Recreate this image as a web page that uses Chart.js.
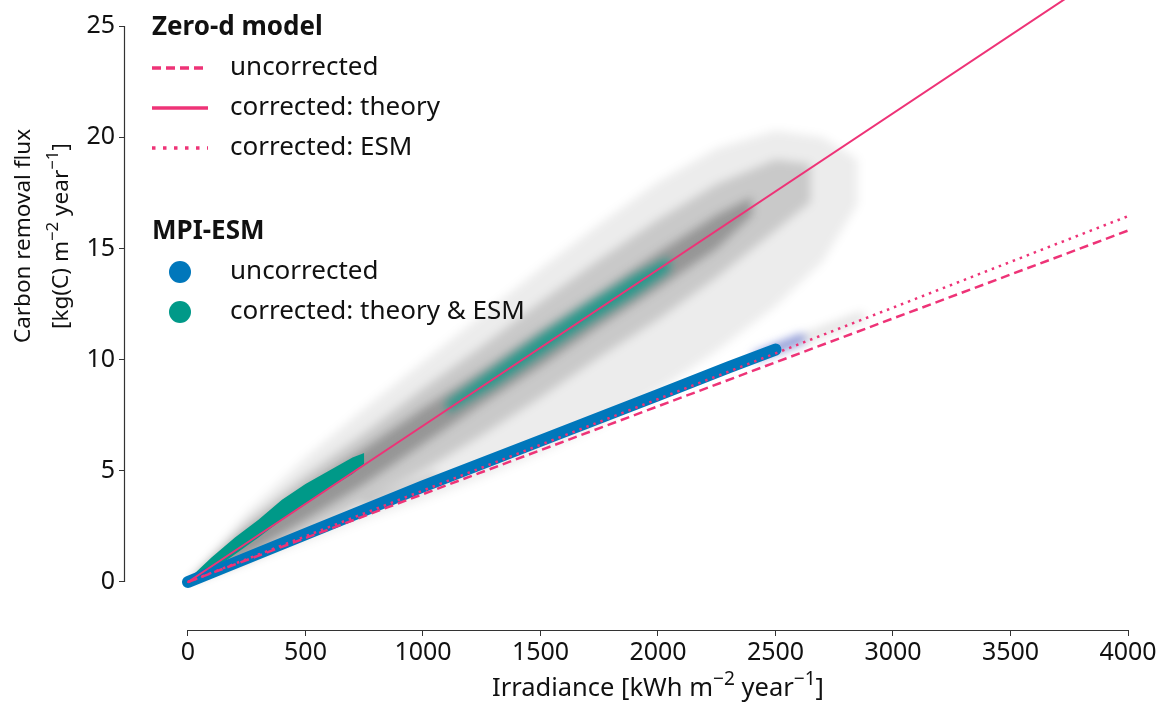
<!DOCTYPE html>
<html>
<head>
<meta charset="utf-8">
<script src="https://cdn.jsdelivr.net/npm/chart.js@4.4.1/dist/chart.umd.min.js"></script>
<style>
  html, body { margin: 0; padding: 0; background: #fff; }
  #wrap { width: 1173px; height: 705px; position: relative; }
  #wrap canvas { position: absolute; left: 0; top: 0; }
  #cloud { filter: blur(5px); }
</style>
</head>
<body>
<div id="wrap">
  <canvas id="cloud" width="1173" height="705"></canvas>
  <canvas id="c" width="1173" height="705"></canvas>
</div>
<script>
// ============================
// Data
// ============================
const xTicks = [0, 500, 1000, 1500, 2000, 2500, 3000, 3500, 4000];
const yTicks = [0, 5, 10, 15, 20, 25];

// zero-d model lines
const lineX = [0, 4000];
const uncorrY = [0, 15.8];
const theoryY = [0, 28.1];
const esmY = [0, 16.45];

// grey cloud of all grid cells (envelopes)
const haloX = [0, 250, 500, 750, 1000, 1250, 1500, 1750, 2000, 2250, 2500, 2700, 2850];
const haloTop = [0, 3.1, 5.6, 7.8, 9.9, 12.0, 14.1, 16.1, 18.0, 19.5, 20.3, 20.0, 19.0];
const haloBottom = [0, 0.9, 1.8, 2.8, 3.7, 4.7, 5.8, 7.0, 8.6, 10.4, 12.4, 14.4, 17.0];

const midX = [0, 250, 500, 750, 1000, 1250, 1500, 1750, 2000, 2250, 2500, 2650];
const midTop = [0, 2.7, 4.8, 6.7, 8.7, 10.6, 12.6, 14.5, 16.3, 17.9, 19.0, 18.8];
const midBottom = [0, 0.9, 2.2, 3.6, 5.0, 6.6, 8.3, 10.1, 11.8, 13.7, 15.8, 17.1];

const coreX = [0, 250, 500, 750, 1000, 1250, 1500, 1750, 2000, 2250, 2400];
const coreTop = [0, 2.3, 4.2, 6.0, 7.8, 9.5, 11.3, 13.0, 14.8, 16.5, 17.3];
const coreBottom = [0, 1.2, 2.8, 4.4, 6.2, 8.0, 9.7, 11.5, 13.2, 15.0, 16.5];

// MPI-ESM corrected (teal)
const tealAX = [0, 100, 200, 300, 400, 500, 600, 700, 750];
const tealATop = [0.1, 1.1, 2.0, 2.8, 3.7, 4.4, 5.0, 5.6, 5.8];
const tealABottom = [0, 0.5, 1.25, 2.0, 2.8, 3.5, 4.2, 4.85, 5.3];
const tealBX = [1100, 1300, 1500, 1700, 1900, 2050];
const tealBTop = [8.1, 9.6, 11.1, 12.5, 13.8, 14.6];
const tealBBottom = [7.6, 8.8, 10.2, 11.6, 12.9, 14.0];

// MPI-ESM uncorrected (blue)
const blueX = [0, 500, 1000, 1500, 2000, 2300, 2500];
const blueY = [0, 2.15, 4.3, 6.35, 8.4, 9.65, 10.45];
const blueTipX = [2420, 2610];
const blueTipY = [10.15, 10.95];
const greyTrailX = [2500, 2860];
const greyTrailY = [10.45, 11.9];
const greyStreakX = [760, 1050];
const greyStreakY = [3.55, 4.75];

// ============================
const PINK = "#EE3377", BLUE = "#0077BB", TEAL = "#009988";
const FONT = "'Noto Sans', sans-serif";
const pts = (xs, ys) => xs.map((x, i) => ({ x, y: ys[i] }));

function band(xs, top, bottom, color, order) {
    return [
        { data: pts(xs, top), fill: "+1", backgroundColor: color, borderWidth: 0, pointRadius: 0, order },
        { data: pts(xs, bottom), fill: false, borderWidth: 0, pointRadius: 0, order }
    ];
}
function stroke(xs, ys, color, width, order, extra = {}) {
    return Object.assign({ data: pts(xs, ys), borderColor: color, borderWidth: width, pointRadius: 0,
        fill: false, borderCapStyle: "round", order }, extra);
}

// soft (blurred) layer: grey cloud + diffuse teal/blue bits
const cloudSets = [
    ...band(haloX, haloTop, haloBottom, "rgba(0,0,0,0.075)", 9),
    ...band(midX, midTop, midBottom, "rgba(0,0,0,0.15)", 8),
    ...band(coreX, coreTop, coreBottom, "rgba(30,30,30,0.3)", 7),
    stroke(greyStreakX, greyStreakY, "rgba(0,0,0,0.18)", 6, 6),
    stroke(greyTrailX, greyTrailY, "rgba(0,0,0,0.11)", 10, 6),
    ...band(tealBX, tealBTop, tealBBottom, "rgba(0,153,136,0.75)", 5),
    stroke(blueTipX, blueTipY, "rgba(70,90,200,0.6)", 9, 4)
];

// sharp layer
const mainSets = [
    ...band(tealAX, tealATop, tealABottom, TEAL, 5),
    stroke(blueX, blueY, BLUE, 12, 4),
    stroke(lineX, uncorrY, PINK, 2.5, 1, { borderDash: [9, 5], borderCapStyle: "butt" }),
    stroke(lineX, esmY, PINK, 2.5, 1, { borderDash: [2.5, 5], borderCapStyle: "butt" }),
    stroke(lineX, theoryY, PINK, 2, 1)
];

// text with superscripts: parts = [[text, isSup], ...]
function richText(ctx, parts, cx, cy, size) {
    const sub = size * 0.75;
    const w = parts.map(([t, sup]) => { ctx.font = `${sup ? sub : size}px ${FONT}`; return ctx.measureText(t).width; });
    let x = cx - w.reduce((a, b) => a + b, 0) / 2;
    ctx.textAlign = "left";
    parts.forEach(([t, sup], i) => {
        ctx.font = `${sup ? sub : size}px ${FONT}`;
        ctx.fillText(t, x, sup ? cy - size * 0.38 : cy);
        x += w[i];
    });
}

// spines, axis titles and the two-part legend
const decor = {
    id: "decor",
    afterDraw(chart) {
        const { ctx, scales: { x, y } } = chart;
        ctx.save();
        ctx.strokeStyle = "#333"; ctx.lineWidth = 1.2;
        ctx.beginPath();
        ctx.moveTo(x.getPixelForValue(0), x.top + 0.5); ctx.lineTo(x.getPixelForValue(4000), x.top + 0.5);
        ctx.moveTo(y.right - 0.5, y.getPixelForValue(0)); ctx.lineTo(y.right - 0.5, y.getPixelForValue(25));
        ctx.stroke();

        ctx.fillStyle = "#111"; ctx.textBaseline = "middle";
        richText(ctx, [["Irradiance [kWh m", 0], ["−2", 1], [" year", 0], ["−1", 1], ["]", 0]], x.getPixelForValue(2000), 689, 25.5);
        ctx.save();
        ctx.translate(24, 236); ctx.rotate(-Math.PI / 2);
        richText(ctx, [["Carbon removal flux", 0]], 0, 0, 22.5);
        richText(ctx, [["[kg(C) m", 0], ["−2", 1], [" year", 0], ["−1", 1], ["]", 0]], 0, 38, 22.5);
        ctx.restore();

        // legend
        ctx.textAlign = "left";
        ctx.font = `bold 26px ${FONT}`;
        ctx.fillText("Zero-d model", 152, 28);
        ctx.fillText("MPI-ESM", 152, 232);
        ctx.font = `26px ${FONT}`;
        const items = [["uncorrected", 68, [9, 5]], ["corrected: theory", 108, []], ["corrected: ESM", 148, [3.5, 7.5]]];
        ctx.strokeStyle = PINK; ctx.lineWidth = 3.6;
        items.forEach(([t, yy, dash]) => {
            ctx.setLineDash(dash);
            ctx.beginPath(); ctx.moveTo(152, yy); ctx.lineTo(208, yy); ctx.stroke();
            ctx.fillText(t, 230, yy);
        });
        ctx.setLineDash([]);
        [["uncorrected", 272, BLUE], ["corrected: theory & ESM", 312, TEAL]].forEach(([t, yy, c]) => {
            ctx.fillStyle = c;
            ctx.beginPath(); ctx.arc(180, yy, 11, 0, Math.PI * 2); ctx.fill();
            ctx.fillStyle = "#111";
            ctx.fillText(t, 230, yy);
        });
        ctx.restore();
    }
};

function makeChart(el, datasets, visible) {
    const tickColor = visible ? "#111" : "rgba(0,0,0,0)";
    const gridColor = visible ? "#333" : "rgba(0,0,0,0)";
    return new Chart(el, {
        type: "line",
        data: { datasets },
        options: {
            responsive: false, animation: false,
            layout: { padding: { left: 0, top: 0, right: 45, bottom: 0 } },
            plugins: { legend: { display: false }, tooltip: { enabled: false } },
            scales: {
                x: {
                    type: "linear", min: -268, max: 4000,
                    afterBuildTicks: s => { s.ticks = xTicks.map(v => ({ value: v })); },
                    afterFit: s => { s.height = 75; },
                    grid: { drawOnChartArea: false, drawTicks: true, tickLength: 6, color: gridColor, lineWidth: 1 },
                    border: { display: false },
                    ticks: { color: tickColor, font: { family: FONT, size: 25 }, padding: 2, maxRotation: 0,
                        autoSkip: false, callback: v => String(v) }
                },
                y: {
                    type: "linear", min: -2.16, max: 26.17,
                    afterBuildTicks: s => { s.ticks = yTicks.map(v => ({ value: v })); },
                    afterFit: s => { s.width = 125; s.paddingTop = 0; s.paddingBottom = 0; },
                    grid: { drawOnChartArea: false, drawTicks: true, tickLength: 6, color: gridColor, lineWidth: 1 },
                    border: { display: false },
                    ticks: { color: tickColor, font: { family: FONT, size: 25 }, padding: 4, callback: v => String(v) }
                }
            }
        },
        plugins: visible ? [decor] : []
    });
}

makeChart(document.getElementById("cloud"), cloudSets, false);
makeChart(document.getElementById("c"), mainSets, true);
</script>
</body>
</html>
